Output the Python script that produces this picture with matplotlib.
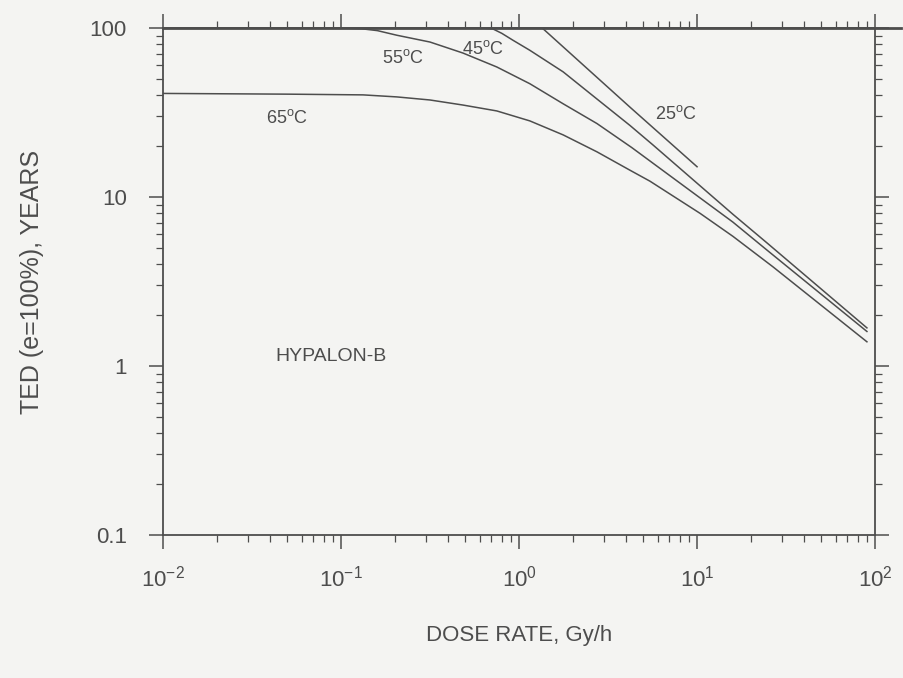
import numpy as np
import matplotlib
matplotlib.use("Agg")
import matplotlib.pyplot as plt
import matplotlib.ticker as mtick

plt.rcParams['font.family'] = ['Liberation Sans', 'DejaVu Sans']
plt.rcParams['mathtext.default'] = 'regular'

# curves (dose rate Gy/h, TED years)
x65 = [0.01, 0.05, 0.133, 0.206, 0.316, 0.484, 0.75, 1.15, 1.77, 2.74, 4.2,
       5.44, 10.4, 15.9, 26.7, 90]
y65 = [41.0, 40.6, 40.2, 39.1, 37.5, 35.0, 32.3, 28.2, 23.3, 18.5, 14.4,
       12.4, 8.0, 5.85, 3.86, 1.39]

x55 = [0.1, 0.13, 0.16, 0.206, 0.316, 0.484, 0.75, 1.15, 1.77, 2.74, 4.3,
       15.9, 24.7, 90]
y55 = [100, 99, 96.5, 90.6, 82.6, 71.1, 58.8, 46.8, 35.6, 27.2, 19.6,
       7.1, 4.85, 1.6]

x45 = [0.6, 0.71, 0.8, 0.925, 1.15, 1.77, 2.74, 4.2, 5.66, 15.9, 24.7, 90]
y45 = [100, 99, 93, 84.6, 73.8, 55.0, 38.0, 26.5, 20.3, 7.9, 5.35, 1.68]

x25 = [1.35, 4.2, 10]
y25 = [100, 34, 15.1]

# common plateau at 100 years
x_top = [0.01, 140]
y_top = [100, 100]

labels = ['65$^o$C', '55$^o$C', '45$^o$C', '25$^o$C']
label_pos = [(0.038, 29.5), (0.17, 66), (0.48, 75), (5.8, 31)]

ink = '#4d4d4d'
bg = '#f4f4f2'

fig = plt.figure(figsize=(9.04, 6.78), dpi=100, facecolor=bg)
ax = fig.add_axes([0.1803, 0.211, 0.7877, 0.7477])
ax.set_facecolor(bg)

ax.plot(x65, y65, color=ink, lw=1.1)
ax.plot(x55, y55, color=ink, lw=1.1)
ax.plot(x45, y45, color=ink, lw=1.1)
ax.plot(x25, y25, color=ink, lw=1.1)
ax.plot(x_top, y_top, color=ink, lw=2.0, clip_on=False)

ax.set_xscale('log')
ax.set_yscale('log')
ax.set_xlim(0.01, 100)
ax.set_ylim(0.1, 100)

for s in ax.spines.values():
    s.set_color(ink)
    s.set_linewidth(1.3)

ax.xaxis.set_minor_locator(mtick.LogLocator(base=10, subs=np.arange(2, 10)))
ax.yaxis.set_minor_locator(mtick.LogLocator(base=10, subs=np.arange(2, 10)))
ax.xaxis.set_minor_formatter(mtick.NullFormatter())
ax.yaxis.set_minor_formatter(mtick.NullFormatter())

ax.set_xticks([0.01, 0.1, 1, 10, 100])
ax.set_xticklabels(['$10^{-2}$', '$10^{-1}$', '$10^{0}$', '$10^{1}$', '$10^{2}$'])
ax.set_yticks([0.1, 1, 10, 100])
ax.set_yticklabels(['0.1', '1', '10', '100'])

ax.tick_params(which='both', direction='out', top=True, right=True, color=ink,
               labelcolor=ink, labelsize=16)
ax.tick_params(which='major', length=10, width=1.1)
ax.tick_params(which='minor', length=5, width=0.9)
ax.tick_params(axis='x', which='major', pad=12)
ax.tick_params(axis='y', which='major', pad=16)

for t, (px, py) in zip(labels, label_pos):
    ax.text(px, py, t, color=ink, fontsize=13, ha='left', va='center')

ax.text(0.0426, 1.13, 'HYPALON-B', color=ink, fontsize=14, ha='left', va='center')

ax.set_xlabel('DOSE RATE, Gy/h', color=ink, fontsize=16, labelpad=24)
ax.set_ylabel('TED (e=100%), YEARS', color=ink, fontsize=18, labelpad=33)

fig.savefig('out.png', dpi=100, facecolor=bg)
